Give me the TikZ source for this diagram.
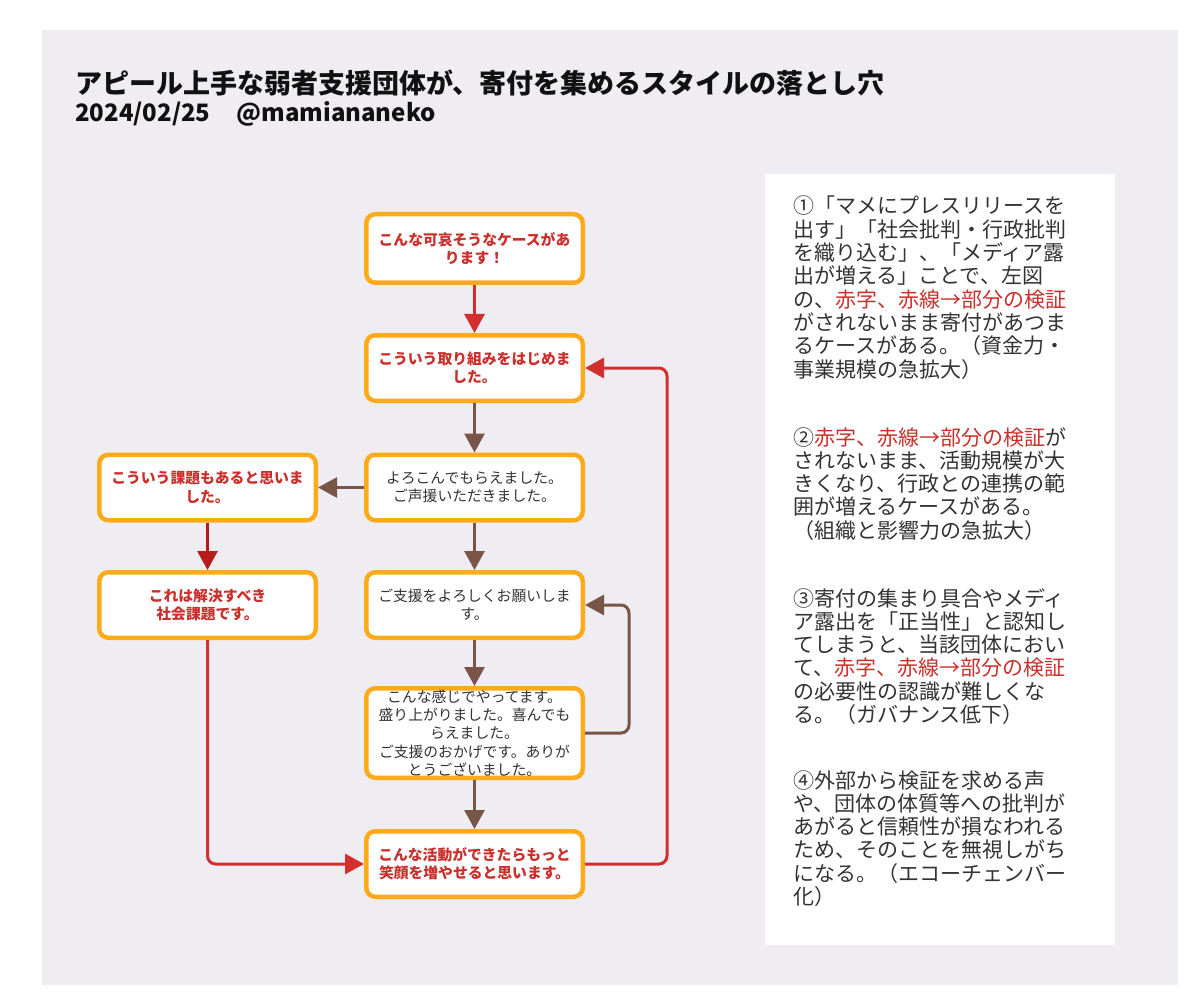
\documentclass[tikz,border=0pt]{standalone}
\usepackage{fontspec}
\setmainfont{Noto Sans CJK JP}
\usetikzlibrary{arrows.meta}
\definecolor{bg}{HTML}{EFEDF2}
\definecolor{orng}{HTML}{FDAB1A}
\definecolor{redtxt}{HTML}{C9302C}
\definecolor{redln}{HTML}{D32F2F}
\definecolor{darkred}{HTML}{B71C1C}
\definecolor{brn}{HTML}{795548}
\definecolor{txt}{HTML}{333333}
\definecolor{ttl}{HTML}{111111}
\begin{document}
\begin{tikzpicture}[x=1pt,y=-1pt,
  box/.style={draw=orng, line width=4.5pt, fill=white, rounded corners=9pt,
    minimum width=216.5pt, minimum height=65.5pt, inner sep=0pt, align=center},
  hot/.style={box, text=redtxt, font=\fontsize{14.8}{18.3}\selectfont\bfseries},
  calm/.style={box, text=txt, font=\fontsize{14.8}{18.3}\selectfont},
  conn/.style={line width=3pt, rounded corners=8pt, -{Triangle[length=19pt,width=20pt]}},
  redc/.style={conn, color=redln},
  drkc/.style={conn, color=darkred},
  brnc/.style={conn, color=brn},
  para/.style={anchor=base west, inner sep=0pt, text=txt, font=\fontsize{21}{23.3}\selectfont}]
\useasboundingbox (0,0) rectangle (1194,1008);
\fill[white] (0,0) rectangle (1194,1008);
\fill[bg] (42,30) rectangle (1178,985);
\fill[white] (765,174) rectangle (1115,945);

\node[anchor=base west, inner sep=0pt, text=ttl, font=\fontsize{27}{30}\selectfont\bfseries] (title) at (75,94)
  {アピール上手な弱者支援団体が、寄付を集めるスタイルの落とし穴};
\node[anchor=base west, inner sep=0pt, text=ttl, font=\fontsize{24}{26}\selectfont\bfseries] (date) at (75,122)
  {2024/02/25\hspace{26pt}@mamiananeko};

\node[hot, minimum height=68.5pt] (A) at (474.5,248.5) {こんな可哀そうなケースがあ\\ります！};
\node[hot] (B) at (474.5,368) {こういう取り組みをはじめま\\した。};
\node[calm] (C) at (474.5,487.5) {よろこんでもらえました。\\ご声援いただきました。};
\node[hot] (D) at (207.5,487.5) {こういう課題もあると思いま\\した。};
\node[hot] (E) at (207.5,605) {これは解決すべき\\社会課題です。};
\node[calm] (F) at (474.5,605) {ご支援をよろしくお願いしま\\す。};
\node[calm, minimum height=89.5pt] (G) at (474.5,733) {こんな感じでやってます。\\盛り上がりました。喜んでも\\らえました。\\ご支援のおかげです。ありが\\とうございました。};
\node[hot] (H) at (474.5,864) {こんな活動ができたらもっと\\笑顔を増やせると思います。};

\draw[redc] (A) -- (B);
\draw[brnc] (B) -- (C);
\draw[brnc] (C) -- (D);
\draw[brnc] (C) -- (F);
\draw[drkc] (D) -- (E);
\draw[brnc] (F) -- (G);
\draw[brnc] (G) -- (H);
\draw[redc] (E.south) |- (H.west);
\draw[brnc] (G.east) -- ++(44,0) |- (F.east);
\draw[redc] (H.east) -- ++(82,0) |- (B.east);

\node[para] (p1) at (793,214) {\parbox[t]{300pt}{\raggedright
①「マメにプレスリリースを\\
出す」「社会批判・行政批判\\
を織り込む」、「メディア露\\
出が増える」ことで、左図\\
の、\textcolor{redtxt}{赤字、赤線→部分の検証}\\
がされないまま寄付があつま\\
るケースがある。（資金力・\\
事業規模の急拡大）}};
\node[para] (p2) at (793,445) {\parbox[t]{300pt}{\raggedright
②\textcolor{redtxt}{赤字、赤線→部分の検証}が\\
されないまま、活動規模が大\\
きくなり、行政との連携の範\\
囲が増えるケースがある。\\
（組織と影響力の急拡大）}};
\node[para] (p3) at (793,606) {\parbox[t]{300pt}{\raggedright
③寄付の集まり具合やメディ\\
ア露出を「正当性」と認知し\\
てしまうと、当該団体におい\\
て、\textcolor{redtxt}{赤字、赤線→部分の検証}\\
の必要性の認識が難しくな\\
る。（ガバナンス低下）}};
\node[para] (p4) at (793,788) {\parbox[t]{300pt}{\raggedright
④外部から検証を求める声\\
や、団体の体質等への批判が\\
あがると信頼性が損なわれる\\
ため、そのことを無視しがち\\
になる。（エコーチェンバー\\
化）}};
\end{tikzpicture}
\end{document}
